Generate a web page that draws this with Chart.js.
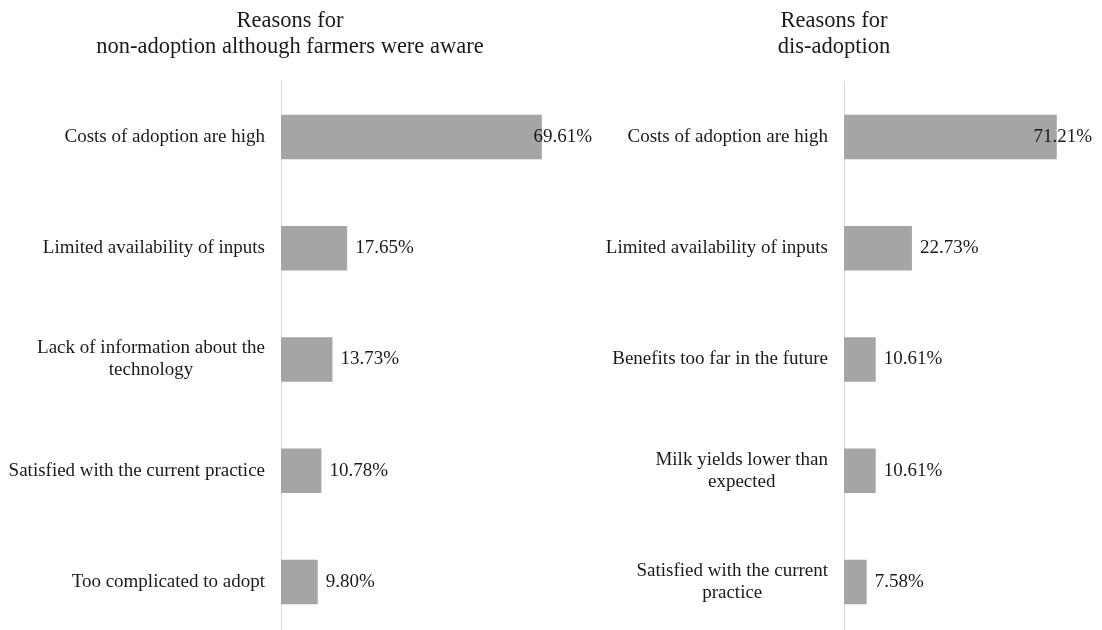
<!DOCTYPE html>
<html>
<head>
<meta charset="utf-8">
<title>Reasons for non-adoption and dis-adoption</title>
<script src="https://cdn.jsdelivr.net/npm/chart.js@4/dist/chart.umd.min.js"></script>
<style>
  html, body { margin: 0; padding: 0; background: #fff; overflow: hidden; }
  #wrap { position: relative; width: 1102px; height: 630px; overflow: hidden; }
  .panel { position: absolute; top: 0; }
</style>
</head>
<body>
<div id="wrap">
  <canvas id="awareChart" class="panel" style="left:0" width="600" height="640"></canvas>
  <canvas id="disChart" class="panel" style="left:560px" width="542" height="640"></canvas>
</div>
<script>
// farmers who knew the technology but did not adopt it
const awareTitle = ["Reasons for", "non-adoption although farmers were aware"];
const awareReasons = [
  "Costs of adoption are high",
  "Limited availability of inputs",
  ["Lack of information about the", "technology"],
  "Satisfied with the current practice",
  "Too complicated to adopt"
];
const awareShares = [69.61, 17.65, 13.73, 10.78, 9.80];

// farmers who adopted and later stopped
const disTitle = ["Reasons for", "dis-adoption"];
const disReasons = [
  "Costs of adoption are high",
  "Limited availability of inputs",
  "Benefits too far in the future",
  ["Milk yields lower than", "expected"],
  ["Satisfied with the current", "practice"]
];
const disShares = [71.21, 22.73, 10.61, 10.61, 7.58];

const SERIF = "'Liberation Serif', 'Times New Roman', serif";
const TEXT_COLOR = "#1a1a1a";

// titles, category labels (block right-aligned, lines centred) and value labels
const panelText = {
  id: "panelText",
  afterDraw(chart, args, opts) {
    const ctx = chart.ctx;
    const area = chart.chartArea;
    const yScale = chart.scales.y;
    ctx.save();
    ctx.fillStyle = TEXT_COLOR;

    ctx.font = "22.5px " + SERIF;
    ctx.textAlign = "center";
    ctx.textBaseline = "alphabetic";
    opts.title.forEach((line, i) => ctx.fillText(line, opts.titleX, 27 + i * 26));

    ctx.font = "19px " + SERIF;
    ctx.textBaseline = "middle";
    chart.data.labels.forEach((label, i) => {
      const lines = Array.isArray(label) ? label : [label];
      const widest = Math.max(...lines.map(l => ctx.measureText(l).width));
      const cx = area.left - 16 - widest / 2;
      const cy = yScale.getPixelForValue(i);
      lines.forEach((l, j) => ctx.fillText(l, cx, cy + (j - (lines.length - 1) / 2) * 22));
    });

    ctx.textAlign = "left";
    const values = chart.data.datasets[0].data;
    chart.getDatasetMeta(0).data.forEach((bar, i) => {
      const txt = values[i].toFixed(2) + "%";
      const w = ctx.measureText(txt).width;
      const x = Math.min(bar.x + 8, area.right - w);
      ctx.fillText(txt, x, bar.y);
    });
    ctx.restore();
  }
};

function makeChart(id, title, reasons, shares, pad, titleX) {
  const ctx = document.getElementById(id).getContext("2d");
  return new Chart(ctx, {
    type: "bar",
    data: {
      labels: reasons,
      datasets: [{
        data: shares,
        backgroundColor: "#a5a5a5",
        borderWidth: 0,
        categoryPercentage: 1,
        barPercentage: 0.4
      }]
    },
    options: {
      indexAxis: "y",
      responsive: false,
      animation: false,
      layout: { padding: pad },
      plugins: {
        legend: { display: false },
        tooltip: { enabled: false },
        panelText: { title: title, titleX: titleX }
      },
      scales: {
        x: {
          display: false,
          min: 0,
          max: 83
        },
        y: {
          grid: { display: false },
          ticks: { display: false },
          border: { display: true, color: "#d9d9d9", width: 1 }
        }
      }
    },
    plugins: [panelText]
  });
}

makeChart("awareChart", awareTitle, awareReasons, awareShares,
  { left: 273, right: 8, top: 81.5, bottom: 2.5 }, 290);
makeChart("disChart", disTitle, disReasons, disShares,
  { left: 276, right: 10, top: 81.5, bottom: 2.5 }, 274);
</script>
</body>
</html>
